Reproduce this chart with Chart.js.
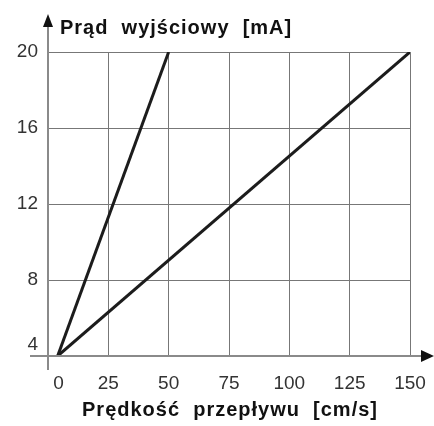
<!DOCTYPE html>
<html>
<head>
<meta charset="utf-8">
<script src="https://cdn.jsdelivr.net/npm/chart.js@4/dist/chart.umd.min.js"></script>
<style>
  html, body { margin: 0; padding: 0; background: #fff; }
  #wrap { width: 434px; height: 426px; position: relative; }
</style>
</head>
<body>
<div id="wrap"><canvas id="chart"></canvas></div>
<script>
// values
const xTicks = [0, 25, 50, 75, 100, 125, 150];
const yTicks = [4, 8, 12, 16, 20];
const fastX = [4, 50];
const fastY = [4, 20];
const slowX = [4, 150];
const slowY = [4, 20];

const yTitle = 'Prąd  wyjściowy  [mA]';
const xTitle = 'Prędkość  przepływu  [cm/s]';

const font = "'Liberation Sans', Arial, sans-serif";

const toPoints = (xs, ys) => xs.map((x, i) => ({ x: x, y: ys[i] }));

// axes with arrowheads and both titles
const axesPlugin = {
    id: 'axes',
    afterDraw(chart) {
        const ctx = chart.ctx;
        const x0 = chart.scales.x.left;
        const y0 = chart.scales.y.bottom;
        const area = chart.chartArea;
        ctx.save();
        ctx.strokeStyle = '#8a8a8a';
        ctx.lineWidth = 2;
        ctx.beginPath();
        ctx.moveTo(30, y0);
        ctx.lineTo(424, y0);
        ctx.moveTo(x0, 370);
        ctx.lineTo(x0, 24);
        ctx.stroke();

        ctx.fillStyle = '#111';
        ctx.beginPath();
        ctx.moveTo(434, y0);
        ctx.lineTo(421, y0 - 6);
        ctx.lineTo(421, y0 + 6);
        ctx.closePath();
        ctx.fill();
        ctx.beginPath();
        ctx.moveTo(x0, 14);
        ctx.lineTo(x0 - 5, 27);
        ctx.lineTo(x0 + 5, 27);
        ctx.closePath();
        ctx.fill();

        ctx.font = 'bold 20px ' + font;
        ctx.letterSpacing = '1px';
        ctx.textBaseline = 'middle';
        ctx.textAlign = 'left';
        ctx.fillText(yTitle, 60, 28);
        ctx.textAlign = 'center';
        ctx.fillText(xTitle, (area.left + area.right) / 2 + 1, 410);
        ctx.restore();
    }
};

new Chart(document.getElementById('chart'), {
    type: 'line',
    data: {
        datasets: [
            {
                data: toPoints(fastX, fastY),
                borderColor: '#1c1c1c',
                borderWidth: 3,
                pointRadius: 0,
                fill: false
            },
            {
                data: toPoints(slowX, slowY),
                borderColor: '#1c1c1c',
                borderWidth: 3,
                pointRadius: 0,
                fill: false
            }
        ]
    },
    options: {
        responsive: true,
        maintainAspectRatio: false,
        animation: false,
        events: [],
        layout: { padding: { top: 52, right: 24, left: 0, bottom: 0 } },
        plugins: {
            legend: { display: false },
            tooltip: { enabled: false }
        },
        scales: {
            x: {
                type: 'linear',
                min: 0,
                max: 150,
                afterBuildTicks: s => { s.ticks = xTicks.map(v => ({ value: v })); },
                afterFit: s => { s.height = 70; s.paddingLeft = 0; s.paddingRight = 0; },
                border: { display: false },
                grid: { color: '#777', lineWidth: 1, drawTicks: false },
                ticks: {
                    padding: 16,
                    color: '#333',
                    font: { family: font, size: 19 },
                    maxRotation: 0,
                    // the 0 sits a little right of the y axis
                    callback: v => (v === 0 ? '\u2007\u20070' : String(v))
                }
            },
            y: {
                type: 'linear',
                min: 4,
                max: 20,
                afterBuildTicks: s => { s.ticks = yTicks.map(v => ({ value: v })); },
                afterFit: s => { s.width = 48; s.paddingTop = 0; s.paddingBottom = 0; },
                border: { display: false },
                grid: { color: '#777', lineWidth: 1, drawTicks: false },
                ticks: {
                    padding: 10,
                    color: '#333',
                    font: { family: font, size: 19 },
                    // the 4 is lifted above the x axis
                    callback: v => (v === 4 ? ['4', ''] : String(v))
                }
            }
        }
    },
    plugins: [axesPlugin]
});
</script>
</body>
</html>
